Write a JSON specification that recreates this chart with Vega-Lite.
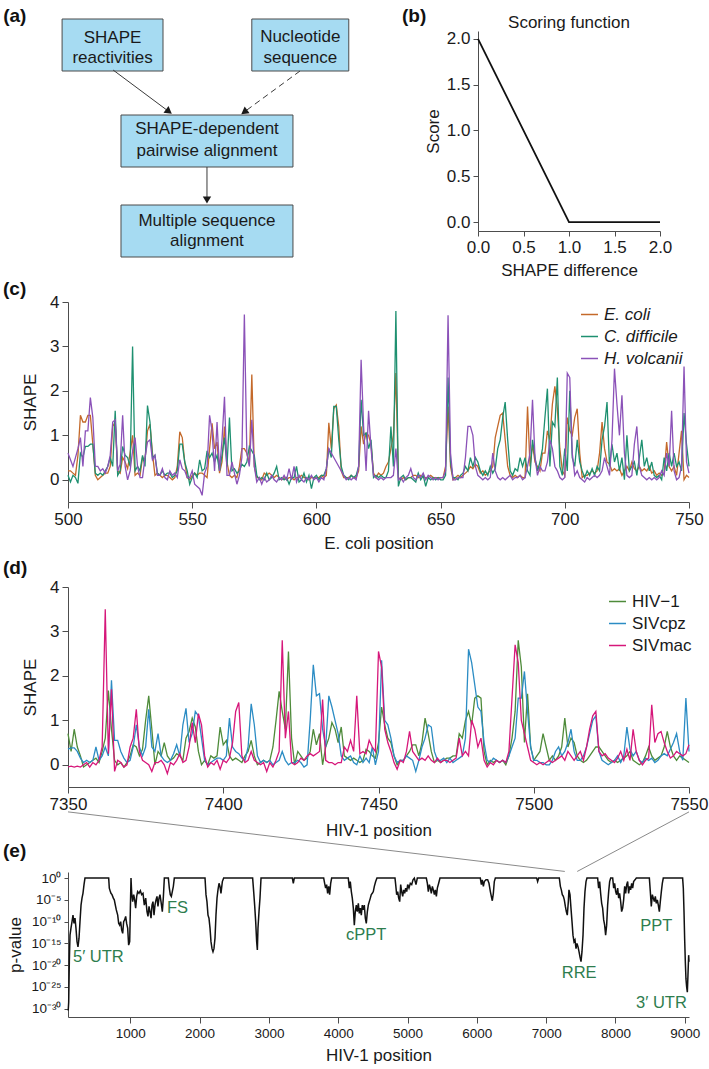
{
"$schema": "https://vega.github.io/schema/vega-lite/v6.json",
"padding": {"left": 3, "top": 6, "right": 2, "bottom": 2},
"background": "white",
"bounds": "flush",
"spacing": 85,
"resolve": {"scale": {"color": "independent"}, "legend": {"color": "independent"}},
"vconcat": [
{"width": 592, "height": 186,
"resolve": {"scale": {"x": "independent", "y": "independent"}},
"layer": [
{"layer": [
{"data": {"values": [
{"box":"r","x1":-0.21,"x2":3.37,"y1":-0.6,"y2":2.0},
{"box":"n","x1":6.52,"x2":9.96,"y1":-0.6,"y2":2.0},
{"box":"p","x1":1.88,"x2":7.98,"y1":4.2,"y2":6.8},
{"box":"m","x1":1.88,"x2":7.98,"y1":8.7,"y2":11.3}]},
"mark": {"type":"rect","fill":"#A6DBF2","stroke":"#4a4a4a","strokeWidth":1},
"encoding": {"x":{"field":"x1","type":"quantitative","scale":{"domain":[0,21],"nice":false,"zero":false},"axis":null},"x2":{"field":"x2"},
"y":{"field":"y1","type":"quantitative","scale":{"domain":[0,9.3],"nice":false,"zero":false,"reverse":true},"axis":null},"y2":{"field":"y2"}}},
{"data": {"values": [
{"t":"SHAPE","x":1.58,"y":0.37},
{"t":"reactivities","x":1.58,"y":1.33},
{"t":"Nucleotide","x":8.24,"y":0.3},
{"t":"sequence","x":8.24,"y":1.35},
{"t":"SHAPE-dependent","x":4.93,"y":4.92},
{"t":"pairwise alignment","x":4.93,"y":6.0},
{"t":"Multiple sequence","x":4.93,"y":9.5},
{"t":"alignment","x":4.93,"y":10.5}]},
"mark": {"type":"text","fontSize":17,"color":"#1a1a1a","align":"center","baseline":"middle"},
"encoding": {"x":{"field":"x","type":"quantitative","scale":{"domain":[0,21],"nice":false,"zero":false},"axis":null},
"y":{"field":"y","type":"quantitative","scale":{"domain":[0,9.3],"nice":false,"zero":false,"reverse":true},"axis":null},"text":{"field":"t"}}},
{"data": {"values": [{"t":"(a)","x":-2.3,"y":-0.75}]},
"mark": {"type":"text","fontSize":19,"fontWeight":"bold","color":"#111111","align":"left","baseline":"middle"},
"encoding": {"x":{"field":"x","type":"quantitative","scale":{"domain":[0,21],"nice":false,"zero":false},"axis":null},
"y":{"field":"y","type":"quantitative","scale":{"domain":[0,9.3],"nice":false,"zero":false,"reverse":true},"axis":null},"text":{"field":"t"}}},
{"data": {"values": [{"x":1.60,"y":1.95,"x2":3.58,"y2":4.03},{"x":4.93,"y":6.8,"x2":4.93,"y2":8.45}]},
"mark": {"type":"rule","color":"#3a3a3a","strokeWidth":1},
"encoding": {"x":{"field":"x","type":"quantitative","scale":{"domain":[0,21],"nice":false,"zero":false},"axis":null},
"y":{"field":"y","type":"quantitative","scale":{"domain":[0,9.3],"nice":false,"zero":false,"reverse":true},"axis":null},"x2":{"field":"x2"},"y2":{"field":"y2"}}},
{"data": {"values": [{"x":8.23,"y":2.0,"x2":6.25,"y2":4.05}]},
"mark": {"type":"rule","color":"#3a3a3a","strokeWidth":1,"strokeDash":[6,4]},
"encoding": {"x":{"field":"x","type":"quantitative","scale":{"domain":[0,21],"nice":false,"zero":false},"axis":null},
"y":{"field":"y","type":"quantitative","scale":{"domain":[0,9.3],"nice":false,"zero":false,"reverse":true},"axis":null},"x2":{"field":"x2"},"y2":{"field":"y2"}}},
{"data": {"values": [{"x":3.58,"y":4.03}]},
"mark": {"type":"point","shape":"triangle-down","filled":true,"color":"#1a1a1a","opacity":1,"size":70,"angle":306.7},
"encoding": {"x":{"field":"x","type":"quantitative","scale":{"domain":[0,21],"nice":false,"zero":false},"axis":null},
"y":{"field":"y","type":"quantitative","scale":{"domain":[0,9.3],"nice":false,"zero":false,"reverse":true},"axis":null}}},
{"data": {"values": [{"x":6.25,"y":4.05}]},
"mark": {"type":"point","shape":"triangle-down","filled":true,"color":"#1a1a1a","opacity":1,"size":70,"angle":53.9},
"encoding": {"x":{"field":"x","type":"quantitative","scale":{"domain":[0,21],"nice":false,"zero":false},"axis":null},
"y":{"field":"y","type":"quantitative","scale":{"domain":[0,9.3],"nice":false,"zero":false,"reverse":true},"axis":null}}},
{"data": {"values": [{"x":4.93,"y":8.45}]},
"mark": {"type":"point","shape":"triangle-down","filled":true,"color":"#1a1a1a","opacity":1,"size":70,"angle":0},
"encoding": {"x":{"field":"x","type":"quantitative","scale":{"domain":[0,21],"nice":false,"zero":false},"axis":null},
"y":{"field":"y","type":"quantitative","scale":{"domain":[0,9.3],"nice":false,"zero":false,"reverse":true},"axis":null}}}
]},
{"layer": [
{"data": {"values": [{"d":0,"s":2},{"d":1,"s":0},{"d":2,"s":0}]},
"mark": {"type":"line","color":"#111111","strokeWidth":1.8},
"encoding": {"x":{"field":"d","type":"quantitative","scale":{"domain":[0,2],"range":[410,592],"nice":false,"zero":false},"axis":{"orient":"bottom","offset":14,"values":[0,0.5,1,1.5,2],"format":".1f","title":"SHAPE difference","titlePadding":7,"tickSize":5,"labelFlush":false}},
"y":{"field":"s","type":"quantitative","scale":{"domain":[-0.098,2.087],"range":[200,0],"nice":false,"zero":false},"axis":{"orient":"left","offset":-410,"values":[0,0.5,1,1.5,2],"format":".1f","title":"Score","tickSize":5,"titlePadding":4}}}},
{"data": {"values": [{"lab":"(b)","d":-0.835,"s":2.251}]},
"mark": {"type":"text","fontSize":19,"fontWeight":"bold","align":"left","baseline":"middle","color":"#111111"},
"encoding": {"x":{"field":"d","type":"quantitative","title":"SHAPE difference","scale":{"domain":[0,2],"range":[410,592],"nice":false,"zero":false}},
"y":{"field":"s","type":"quantitative","title":"Score","scale":{"domain":[-0.098,2.087],"range":[200,0],"nice":false,"zero":false}},"text":{"field":"lab"}}},
{"data": {"values": [{"lab":"Scoring function","d":1,"s":2.175}]},
"mark": {"type":"text","fontSize":17,"align":"center","baseline":"middle","color":"#1a1a1a"},
"encoding": {"x":{"field":"d","type":"quantitative","title":"SHAPE difference","scale":{"domain":[0,2],"range":[410,592],"nice":false,"zero":false}},
"y":{"field":"s","type":"quantitative","title":"Score","scale":{"domain":[-0.098,2.087],"range":[200,0],"nice":false,"zero":false}},"text":{"field":"lab"}}}
]}
]},
{"width": 621, "height": 200, "title": {"text": "(c)", "dy": 12},
"data": {"values": "pos,ec,cd,hv\n500,0.2,0.1,0.6\n501,0.2,-0.05,0.45\n502,0.15,0.1,0.3\n503,0.1,0.05,0.5\n504,0.55,-0.08,0.7\n505,1.45,0.6,0.95\n506,1.3,0.5,0.3\n507,1.3,0.75,1.1\n508,1.45,0.75,1.1\n509,1.45,0.8,1.85\n510,0.8,0.8,1.4\n511,0.1,0.15,0.3\n512,0,0.1,0.3\n513,0.05,0.15,0.2\n514,0.1,0.1,0.25\n515,0.15,0.2,0.15\n516,0.15,0.3,0.3\n517,0.3,0.5,0.55\n518,1.2,0.3,1.3\n519,1.3,1.55,1.35\n520,0.2,0.1,0.2\n521,0.15,0.2,0.35\n522,0.5,0.75,1.45\n523,0.4,0.55,0.3\n524,0.25,0.5,0\n525,0.6,0.3,0.2\n526,1,3,0.65\n527,0.1,0.2,0.95\n528,0.15,0.3,0.3\n529,0.1,0.2,0.05\n530,0.5,0.55,0.05\n531,0.45,0.3,0.5\n532,1.1,1.67,0.85\n533,1.25,1.3,0.9\n534,0.6,0.5,0.45\n535,0.1,0.55,0.55\n536,0.15,0.15,0.1\n537,0.1,0.1,0.1\n538,0.05,0.2,0.25\n539,0.1,0.1,0.05\n540,0.1,0.15,0\n541,0.05,0.15,0.2\n542,0,0.05,0.1\n543,0.05,0.1,0.15\n544,0.3,0.2,0.05\n545,1.08,0.8,0.45\n546,0.95,0.8,0.25\n547,0.4,0.4,0.2\n548,0.05,0.2,0.05\n549,0,-0.1,0.05\n550,0.1,0.05,0.2\n551,0.15,0.15,-0.1\n552,0.1,0.05,-0.15\n553,0.15,0.45,-0.2\n554,0.15,0.2,-0.35\n555,0.1,0.25,0.15\n556,0.05,0.65,0.3\n557,0.7,0.5,1.45\n558,1.27,0.6,1.1\n559,0.7,0.4,0.2\n560,0.85,0.55,1.3\n561,0.15,0.2,0.2\n562,0.4,0.55,0.9\n563,1.2,0.95,1.87\n564,0.4,0.3,0.1\n565,0.1,1.4,0.1\n566,0.05,0.2,0.4\n567,0.1,0.25,0.15\n568,0.05,0.15,-0.1\n569,0.3,0.2,0.1\n570,0.7,0.35,0.5\n571,0.7,0.3,3.72\n572,0.6,0.4,0.6\n573,0.35,0.75,0.3\n574,2.37,0.65,1.35\n575,0.3,0.55,0.3\n576,0.05,0.1,-0.05\n577,0.05,0,0.05\n578,0,0.05,-0.1\n579,0.15,0,0.05\n580,0.1,0.15,-0.05\n581,0.15,0,0\n582,0.1,0.05,0.1\n583,0.05,0.15,0\n584,0.1,0.3,-0.05\n585,0.05,0,0.05\n586,0,0.05,0\n587,0.05,0,0.1\n588,0,0.05,0\n589,0.05,-0.1,0.25\n590,0.05,0.05,0\n591,0,0.05,0.3\n592,0.05,0.3,-0.05\n593,0.05,-0.05,0.1\n594,0.1,0,0\n595,0.05,0.15,-0.05\n596,0.05,-0.05,0.05\n597,0,0.1,0\n598,0.05,-0.2,0.1\n599,0.05,0.05,0\n600,0.05,0.1,0.05\n601,0.05,0,-0.05\n602,0.1,0.1,0.05\n603,0.05,0.1,0\n604,0.1,0.25,0.25\n605,1.28,0.7,0.7\n606,0.7,0.5,0.6\n607,1.6,1.65,0.5\n608,1.68,1.65,0.4\n609,1.2,0.9,0.3\n610,0.2,0.3,0.2\n611,0.05,0.1,0.1\n612,0.05,0.05,0\n613,0.05,0,0.05\n614,0.1,0.1,0\n615,0.05,0.05,0.05\n616,0.05,0.1,0\n617,0.2,0.3,0.3\n618,1.2,1.8,2.7\n619,0.8,1,1.2\n620,1.05,1.05,0.2\n621,1,0.7,1.55\n622,0.8,0.9,0.7\n623,0.15,0.05,0.1\n624,0.05,0.1,0.05\n625,0.15,0.05,0\n626,0.1,0.1,0.05\n627,0.15,0.05,0\n628,0.3,0.05,0.05\n629,0.4,0.2,0.05\n630,0.7,1.2,0.05\n631,1,0.3,0.1\n632,2.4,3.8,0.7\n633,0.05,-0.15,0\n634,0,0.05,0.05\n635,0.05,0.1,-0.05\n636,0,0,0.05\n637,0.05,0.05,0.1\n638,0.05,0.05,0.25\n639,0.1,0,0.05\n640,0.1,-0.05,0\n641,0.05,0.15,0.1\n642,0.1,0,0.05\n643,0.05,0.1,0.15\n644,0.05,-0.15,0\n645,0.05,0.05,0.1\n646,0.1,0,0.05\n647,0.05,0.05,0\n648,0.05,0,0.05\n649,0.05,0.05,0\n650,0.05,0,0.05\n651,0.05,0,0.05\n652,0.3,0.1,0.2\n653,1.65,2.3,3.7\n654,0.3,0.4,0.6\n655,0,0.05,0\n656,0.05,0.05,0\n657,0.1,0,0.05\n658,0.05,0.1,0.05\n659,0.1,0.15,0.05\n660,0.15,0.3,0.5\n661,0.2,0.2,1.2\n662,0.3,0.5,1.2\n663,0.25,0.3,1\n664,0.35,0.5,0.3\n665,0.3,0.4,0.1\n666,0.15,0.2,0.05\n667,0.2,0.1,0\n668,0.1,0.2,0.05\n669,0.15,0.1,0\n670,0.2,0.3,0.05\n671,0.3,0.15,0.6\n672,0.95,0.25,0.2\n673,1.2,0.7,0.05\n674,1.45,0.9,0\n675,1.5,1.4,0.05\n676,0.9,1.75,0\n677,0.3,0.9,0.05\n678,0.1,0.2,0.1\n679,0.05,0.1,0\n680,0.1,0.25,0.05\n681,0.05,0.2,0.05\n682,0.1,0.5,0.1\n683,0.05,0.3,0\n684,0.05,0.5,0.05\n685,1.65,0.2,0.3\n686,0.3,0.1,0.6\n687,0.8,0.9,1.8\n688,0.4,0.5,0.5\n689,0.3,0.2,0.1\n690,0.2,0.4,0.3\n691,0.6,0.7,0.2\n692,0.6,1.4,0.2\n693,1.1,2.05,0.4\n694,0.9,0.3,0.9\n695,1.7,1.3,0.7\n696,2.1,1.2,0.3\n697,1.6,2.3,0.2\n698,0.7,0.3,0.05\n699,0.2,0.1,0\n700,0.1,0.7,0.05\n701,1.4,0.2,2.4\n702,1.1,2,2.3\n703,1,0.5,0.6\n704,1.4,0.3,0.1\n705,1.6,0.9,0.2\n706,0.6,0.4,0.05\n707,0.05,0.2,0\n708,0.1,0.05,-0.05\n709,0.1,0.2,0.05\n710,0.15,0.1,0\n711,0.2,0.25,0.05\n712,0.15,0.1,0.1\n713,0.2,0.3,0.05\n714,0.6,0.2,0.1\n715,1.3,0.9,0.2\n716,0.7,1.2,0.5\n717,0.4,1.75,0.3\n718,0.35,0.3,0.1\n719,0.2,0.8,0.9\n720,0.25,0.4,2.5\n721,0.2,0.6,1.7\n722,0.25,0.2,1\n723,0.1,0.5,1.9\n724,0.2,0,0.6\n725,0.3,1,0.1\n726,0.2,0.2,0.05\n727,0.4,0.3,0.1\n728,0.25,0.4,0.8\n729,0.2,0.1,1.2\n730,0.3,0.5,0.3\n731,0.2,0.9,0.1\n732,0.25,0.3,0.05\n733,0.2,0.5,0\n734,0.3,0.2,0.05\n735,0.15,0.4,0\n736,0.2,0.1,0.05\n737,0.1,0.05,0\n738,0.15,0.1,0.05\n739,0.1,0,0.2\n740,0.15,0.5,0.1\n741,0.85,0.2,0.6\n742,0.3,0.6,0.3\n743,0.2,0.3,1.55\n744,0.3,0.6,0.2\n745,0.1,0.3,0\n746,0.6,0.4,0.05\n747,1.1,0.2,0.3\n748,0,1.5,2.55\n749,0.1,0.8,0.4\n750,0.05,0.3,0.15", "format": {"type":"csv","parse":{"pos":"number","ec":"number","cd":"number","hv":"number"}}},
"transform": [{"fold": ["ec","cd","hv"], "as": ["series","shape"]}],
"mark": {"type":"line","strokeWidth":1.3},
"encoding": {
"x": {"field":"pos","type":"quantitative","scale":{"domain":[500,750],"nice":false,"zero":false},"axis":{"values":[500,550,600,650,700,750],"format":"d","title":"E. coli position","titlePadding":8}},
"y": {"field":"shape","type":"quantitative","scale":{"domain":[-0.5,4],"nice":false,"zero":false},"axis":{"values":[0,1,2,3,4],"title":"SHAPE","titlePadding":10}},
"color": {"field":"series","type":"nominal","scale":{"domain":["ec","cd","hv"],"range":["#C4692A","#1E9070","#8B52B8"]},"legend":{"orient":"none","legendX":512,"legendY":3,"title":null,"symbolType":"stroke","symbolSize":289,"symbolStrokeWidth":1.5,"labelFontSize":17,"labelFontStyle":"italic","labelOffset":5,"rowPadding":4,"labelColor":"#1a1a1a","labelExpr":"datum.label == 'ec' ? 'E. coli' : datum.label == 'cd' ? 'C. difficile' : 'H. volcanii'"}}
}},
{"width": 621, "height": 200, "title": {"text": "(d)", "dy": 6},
"layer": [
{"data": {"values": "pos,g,b,m\n7350,0.7,0.35,-0.05\n7351,0.3,0.38,-0.03\n7352,0.8,0.38,-0.05\n7353,0.4,0.3,-0.03\n7354,0.2,0.15,-0.05\n7355,-0.05,0.05,0\n7356,0,0.1,0.05\n7357,0.05,0.05,-0.05\n7358,0.1,0.1,0.05\n7359,0.15,0.4,0\n7360,0.05,0.1,0.1\n7361,0.3,0.2,0.4\n7362,0.6,0.4,3.5\n7363,1.67,0.2,0.25\n7364,0.8,1.9,1.7\n7365,0.1,0.55,-0.15\n7366,0,0.55,0.1\n7367,0.05,0.3,0.05\n7368,-0.05,0.15,-0.05\n7369,0.05,0.05,0\n7370,0.2,0.1,0.4\n7371,0.45,0.4,0.6\n7372,0.4,0.9,1.25\n7373,0.2,0.4,0.3\n7374,0.35,0.2,0.1\n7375,1,0.4,0.05\n7376,1.55,1.25,0\n7377,0.8,0.4,-0.15\n7378,0,0.3,0.05\n7379,0.3,0.7,0.05\n7380,0.2,0.2,0.1\n7381,0.5,0.1,0\n7382,0.2,0.05,-0.2\n7383,0.1,0.1,0.05\n7384,0.15,0.25,0\n7385,0.25,0.45,0.1\n7386,0.2,0.2,0.25\n7387,0.1,0.9,0.05\n7388,0.6,1.27,0.1\n7389,0.75,0.5,0.4\n7390,1.05,0.7,0.95\n7391,0.85,1.2,0.5\n7392,0.3,1.1,1.15\n7393,0,0.6,0.9\n7394,0.1,0.1,0.2\n7395,0,0,-0.05\n7396,0.2,0.05,0.05\n7397,0.15,0.1,0\n7398,0.2,0.15,0.1\n7399,0.85,0.15,-0.1\n7400,0.45,0.1,0.1\n7401,0.55,0.2,0.05\n7402,0.2,1.05,0.15\n7403,0.1,0.4,0.5\n7404,0.15,0.3,1.2\n7405,0.1,0.25,1.4\n7406,0.05,0.15,0.2\n7407,0.2,0.1,0.05\n7408,0.3,0.4,0.1\n7409,0.55,1.37,0.3\n7410,0.2,0.9,0.1\n7411,0,0.2,0.05\n7412,0.05,0.05,0\n7413,0.1,0.1,0.05\n7414,0.05,0.05,-0.15\n7415,0.1,0.1,0.05\n7416,0.4,0,-0.05\n7417,1,0.05,0.1\n7418,1.65,0.1,0.3\n7419,1.2,0.3,2.8\n7420,0.8,0.1,0.6\n7421,2.55,0,1.2\n7422,0.6,0.05,0.05\n7423,0,0.05,0\n7424,0.3,0.1,0.05\n7425,0.2,0.05,0.15\n7426,0.1,-0.05,0.1\n7427,0.15,0,0.2\n7428,0.3,1,0.25\n7429,0.8,2.25,0.2\n7430,0.45,1.55,0.25\n7431,0.7,1.6,0.3\n7432,0,0.8,1.47\n7433,0.4,0.4,0.1\n7434,0.6,1.55,0.05\n7435,0.95,1.3,0.05\n7436,0.8,1,0\n7437,0.5,0.7,0.05\n7438,0.85,0.2,0.05\n7439,0.2,0.1,0.4\n7440,0.15,0.15,0.3\n7441,0.1,0.2,0.55\n7442,0.15,0.05,0.3\n7443,0.1,0,1.55\n7444,0.05,0.2,0.25\n7445,0.1,0.05,0.3\n7446,0.35,0.15,0.25\n7447,0.3,0.05,0.55\n7448,0.2,0.4,0.4\n7449,0.15,0,0.3\n7450,0.5,0.3,2.55\n7451,1.3,2.35,2.2\n7452,0.9,1,0.8\n7453,0.6,0.9,0.5\n7454,0.5,0.6,0.3\n7455,0.2,0.2,0.05\n7456,0,0.05,-0.1\n7457,0.1,0.1,0.1\n7458,0.1,0.1,0.05\n7459,0.2,0.2,0.3\n7460,0.3,0.15,0.75\n7461,0.45,0.1,0.3\n7462,0.45,-0.15,0.2\n7463,0.2,0.1,0.1\n7464,0.5,0.4,0.15\n7465,1.05,0.6,0.1\n7466,0.7,0.9,0.2\n7467,0.3,0.85,0.1\n7468,0.05,0.3,0.05\n7469,0.1,0.1,0.15\n7470,0.05,0.1,0.05\n7471,0.1,0.15,0.1\n7472,0.15,0.05,0.1\n7473,0.15,0.15,0.05\n7474,0.2,0.05,0.1\n7475,0.2,0.1,0.15\n7476,0.7,0.15,0.6\n7477,0.6,0.2,0.2\n7478,1,0.6,0.3\n7479,1.2,2.6,0.2\n7480,0.9,2.3,1\n7481,1.5,1.8,0.8\n7482,1.55,1.3,0.4\n7483,1.5,1.2,0.6\n7484,0.3,0.5,0.1\n7485,0,0.1,-0.05\n7486,0.1,0.05,0.05\n7487,0.05,0.15,0\n7488,0.1,0.1,0.1\n7489,0.05,0.05,0.05\n7490,0.1,0.1,0.1\n7491,0,0.05,0.05\n7492,0.2,0.2,0.3\n7493,0.6,0.4,1.5\n7494,1.2,0.6,2.7\n7495,2.8,1.5,2.3\n7496,2.2,1.5,1\n7497,0.5,2.1,0.7\n7498,1.6,1.2,0.4\n7499,0.4,0.4,0.1\n7500,0.1,0.1,0.05\n7501,0.2,0.1,0\n7502,0.3,0.05,0.05\n7503,0.7,0.05,0\n7504,0.4,0,0.05\n7505,0.1,0,0.1\n7506,0.2,0.1,0.05\n7507,0.1,0.3,0.1\n7508,0.2,0.4,0.15\n7509,0.4,0.2,0.2\n7510,1.05,0.3,0.1\n7511,0.4,0.5,0.3\n7512,0.6,0.8,0.2\n7513,0.5,0.3,0.1\n7514,0.2,0.1,0.2\n7515,0.1,0.1,0.3\n7516,0.05,0.2,0.1\n7517,0.1,0.4,0.4\n7518,0.2,0.7,0.8\n7519,0.3,1,1.1\n7520,0.4,1.1,1.2\n7521,0.4,0.3,0.3\n7522,0.3,0.1,0.2\n7523,0.2,0.05,0.25\n7524,0.1,0,0.15\n7525,0.05,0.05,0.1\n7526,0.1,0.1,0.05\n7527,0.05,0.2,0.15\n7528,0.1,0.05,0.3\n7529,0.15,0.2,0.1\n7530,0.2,0.85,0.35\n7531,0.3,0.35,0.1\n7532,0.1,0.2,0.8\n7533,0.05,0.3,0.3\n7534,0,0.1,0.1\n7535,0.05,0.05,0\n7536,0.2,0.15,0.1\n7537,0.4,0.1,0.15\n7538,0.2,0.15,1.35\n7539,0.1,0.05,0.5\n7540,0.15,0.1,0.7\n7541,0.2,0.2,0.75\n7542,0.4,0.25,0.5\n7543,0.75,0.2,0.3\n7544,0.4,0.35,0.15\n7545,0.2,0.5,0.2\n7546,0.1,0.7,0.3\n7547,0.2,0.3,0.25\n7548,0.15,0.1,0.2\n7549,0.1,1.5,0.25\n7550,0.05,0.3,0.45", "format": {"type":"csv","parse":{"pos":"number","g":"number","b":"number","m":"number"}}},
"transform": [{"fold": ["g","b","m"], "as": ["series","shape"]}],
"mark": {"type":"line","strokeWidth":1.3},
"encoding": {
"x": {"field":"pos","type":"quantitative","scale":{"domain":[7350,7550],"nice":false,"zero":false},"axis":{"values":[7350,7400,7450,7500,7550],"format":"d","title":"HIV-1 position","titlePadding":10}},
"y": {"field":"shape","type":"quantitative","scale":{"domain":[-0.5,4],"nice":false,"zero":false},"axis":{"values":[0,1,2,3,4],"title":"SHAPE","titlePadding":10}},
"color": {"field":"series","type":"nominal","scale":{"domain":["g","b","m"],"range":["#4E8B3A","#2B8CC4","#D6177A"]},"legend":{"orient":"none","legendX":540,"legendY":5,"title":null,"symbolType":"stroke","symbolSize":289,"symbolStrokeWidth":1.5,"labelFontSize":17,"labelOffset":5,"rowPadding":4,"labelColor":"#1a1a1a","labelExpr":"datum.label == 'g' ? 'HIV−1' : datum.label == 'b' ? 'SIVcpz' : 'SIVmac'"}}
}},
{"data": {"values": [{"pos":7350,"shape":-1.06,"pos2":7510,"shape2":-2.4},{"pos":7550,"shape":-1.06,"pos2":7514,"shape2":-2.4}]},
"mark": {"type":"rule","color":"#8a8a8a","strokeWidth":1},
"encoding": {
"x": {"field":"pos","type":"quantitative","title":"HIV-1 position","scale":{"domain":[7350,7550],"nice":false,"zero":false}},
"y": {"field":"shape","type":"quantitative","title":"SHAPE","scale":{"domain":[-0.5,4],"nice":false,"zero":false}},
"x2": {"field":"pos2"}, "y2": {"field":"shape2"}}}
]},
{"width": 621, "height": 145, "title": {"text": "(e)", "dy": -4},
"layer": [
{"data": {"values": "pos,p\n104,0.398e-30\n111,0.316e-28\n120,0.631e-19\n130,0.794e-13\n144,0.316e-11\n159,1e-10\n173,0.316e-8\n188,0.398e-10\n202,0.631e-9\n216,0.316e-11\n231,0.251e-14\n245,0.158e-15\n260,0.158e-13\n274,1e-10\n289,0.631e-6\n303,0.251e-4\n317,0.316e-3\n332,0.316e-1\n346,1\n688,1\n697,0.501e-2\n712,0.794e-3\n721,0.316e-3\n736,0.158e-3\n755,0.251e-4\n769,1e-5\n784,0.631e-6\n798,0.501e-7\n818,0.316e-8\n832,0.398e-10\n846,0.158e-10\n861,1e-10\n875,0.126e-11\n890,0.2e-12\n904,1e-10\n918,0.251e-9\n933,0.158e-8\n947,0.398e-10\n962,0.316e-11\n976,0.398e-15\n991,0.251e-14\n1000,0.2e-7\n1010,1\n1020,0.316e-3\n1034,0.398e-5\n1049,0.158e-3\n1063,1e-5\n1077,0.126e-6\n1092,0.631e-4\n1106,0.794e-3\n1125,0.316e-3\n1145,0.126e-2\n1164,0.158e-3\n1183,0.316e-3\n1202,0.631e-6\n1222,0.251e-4\n1241,0.2e-7\n1255,0.158e-8\n1270,0.316e-6\n1284,0.2e-7\n1299,0.631e-9\n1313,0.631e-6\n1327,0.398e-5\n1342,0.316e-8\n1356,0.631e-6\n1371,1e-5\n1385,0.631e-4\n1399,0.316e-6\n1414,0.251e-4\n1428,0.158e-3\n1443,0.398e-5\n1462,0.2e-7\n1476,0.251e-4\n1491,1\n1549,1\n1563,0.501e-2\n1577,0.158e-3\n1592,0.631e-4\n1606,0.794e-3\n1621,0.126e-1\n1635,1\n2078,1\n2092,0.158e-3\n2106,0.398e-5\n2121,0.316e-8\n2135,0.631e-9\n2150,0.316e-11\n2164,0.251e-14\n2179,0.631e-16\n2193,0.126e-16\n2207,0.631e-16\n2222,0.158e-13\n2236,0.316e-8\n2251,0.251e-4\n2265,0.2e-2\n2280,0.631e-1\n2294,0.126e-1\n2308,0.316e-3\n2328,0.158\n2347,1\n2765,1\n2780,0.794e-3\n2794,0.631e-6\n2809,1e-10\n2823,0.251e-14\n2833,0.316e-16\n2842,0.316e-11\n2857,0.2e-7\n2871,0.251e-4\n2886,1\n3338,1\n3352,0.631e-1\n3366,1\n3790,1\n3804,0.631e-1\n3818,0.501e-2\n3833,0.316e-1\n3847,0.316e-3\n3862,0.126e-1\n3876,0.158e-3\n3891,0.631e-1\n3905,1\n4145,1\n4160,0.501e-2\n4174,0.158\n4189,0.794e-3\n4203,0.251e-4\n4218,0.126e-6\n4232,0.158e-10\n4246,0.2e-7\n4261,0.631e-6\n4275,0.2e-7\n4290,0.158e-5\n4304,0.794e-8\n4319,0.126e-6\n4333,0.316e-8\n4347,0.631e-6\n4362,0.501e-7\n4376,0.631e-6\n4391,0.631e-9\n4405,0.398e-10\n4420,0.2e-7\n4434,0.631e-6\n4448,0.398e-5\n4463,0.251e-4\n4477,0.158e-3\n4492,0.316e-3\n4506,0.794e-3\n4521,0.126e-1\n4540,0.158\n4559,1\n4819,1\n4829,0.316e-1\n4843,0.158e-3\n4858,0.794e-3\n4872,0.251e-4\n4887,0.398e-5\n4901,0.316e-1\n4915,0.794e-3\n4930,0.631e-4\n4944,0.2e-2\n4959,0.316e-3\n4973,0.501e-2\n4988,0.794e-3\n5002,0.316e-1\n5021,0.501e-2\n5040,0.631e-1\n5060,0.316e-1\n5079,0.398\n5098,1\n5122,0.316e-1\n5141,1\n5271,1\n5286,0.631e-1\n5300,0.794e-3\n5315,0.316e-1\n5329,0.501e-2\n5343,0.316e-3\n5358,0.126e-1\n5372,0.2e-2\n5387,0.158e-3\n5401,0.2e-2\n5416,0.631e-4\n5430,0.501e-2\n5449,0.631e-1\n5468,1\n6050,1\n6065,0.316e-1\n6079,0.398\n6094,0.126e-1\n6108,0.158\n6132,0.398\n6156,0.398\n6175,0.631e-1\n6195,0.794e-3\n6209,0.631e-4\n6223,0.631e-5\n6238,0.316e-3\n6252,0.158\n6267,1\n6863,1\n6877,0.158\n6892,1\n7190,1\n7205,0.126e-1\n7219,0.2e-2\n7233,0.158e-3\n7248,0.631e-4\n7262,1e-5\n7277,0.316e-6\n7291,0.2e-7\n7305,0.316e-8\n7320,0.398e-5\n7329,0.2e-2\n7344,0.158e-3\n7358,0.126e-6\n7373,1e-10\n7387,0.794e-13\n7402,0.251e-14\n7416,0.631e-14\n7431,0.631e-16\n7445,1e-15\n7460,0.158e-15\n7474,0.126e-16\n7488,0.794e-18\n7503,0.631e-19\n7517,0.126e-16\n7532,0.794e-13\n7546,0.126e-6\n7560,0.794e-3\n7575,0.158\n7589,1\n7743,1\n7757,0.501e-2\n7772,0.158\n7786,0.316e-3\n7801,0.158e-5\n7815,0.126e-6\n7830,0.251e-9\n7844,0.158e-10\n7858,0.794e-13\n7873,0.158e-10\n7887,0.631e-6\n7902,0.794e-3\n7916,0.158\n7931,1\n7960,1\n7974,0.501e-2\n7988,0.631e-1\n8003,0.794e-3\n8017,0.158e-3\n8032,0.501e-2\n8046,0.251e-4\n8060,0.316e-3\n8075,0.398e-5\n8089,0.2e-7\n8104,0.126e-6\n8118,1e-5\n8133,0.126e-1\n8147,0.316e-3\n8162,0.316e-1\n8176,0.158\n8190,0.316e-3\n8205,0.126e-1\n8219,0.2e-2\n8234,0.631e-1\n8248,0.501e-2\n8262,0.158\n8282,0.398\n8301,1\n8489,1\n8503,0.794e-3\n8517,0.316e-6\n8532,0.158e-3\n8546,0.251e-4\n8561,0.398e-5\n8575,0.631e-4\n8589,0.158e-5\n8604,1e-5\n8618,0.631e-6\n8633,0.2e-7\n8647,0.398e-5\n8662,0.794e-3\n8676,0.631e-1\n8690,1\n8969,1\n8979,0.501e-2\n8989,0.2e-7\n8998,0.158e-13\n9008,0.631e-19\n9017,0.794e-23\n9027,1e-25\n9037,0.631e-26\n9046,0.501e-22\n9056,0.2e-17\n9061,0.631e-19", "format": {"type":"csv","parse":{"pos":"number","p":"number"}}},
"mark": {"type":"line","color":"#111111","strokeWidth":1.5},
"encoding": {
"x": {"field":"pos","type":"quantitative","scale":{"domain":[101,9061],"nice":false,"zero":false},"axis":{"values":[1000,2000,3000,4000,5000,6000,7000,8000,9000],"format":"d","title":"HIV-1 position","labelFontSize":13.5,"titlePadding":8}},
"y": {"field":"p","type":"quantitative","scale":{"type":"log","domain":[1.26e-32,25.1],"nice":false},"axis":{"values":[1,1e-5,1e-10,1e-15,1e-20,1e-25,1e-30],"labelFontSize":13.5,"tickSize":4,"title":"p-value","titlePadding":6,"labelExpr":"datum.value > 0.1 ? '10⁰' : datum.value > 1e-6 ? '10⁻⁵' : datum.value > 1e-11 ? '10⁻¹⁰' : datum.value > 1e-16 ? '10⁻¹⁵' : datum.value > 1e-21 ? '10⁻²⁰' : datum.value > 1e-26 ? '10⁻²⁵' : '10⁻³⁰'"}}
}},
{"data": {"values": [
{"lab":"5′ UTR","pos":173,"p":0.794e-18},
{"lab":"FS","pos":1530,"p":0.126e-6},
{"lab":"cPPT","pos":4112,"p":0.794e-13},
{"lab":"RRE","pos":7225,"p":0.2e-21},
{"lab":"PPT","pos":8359,"p":0.126e-10},
{"lab":"3′ UTR","pos":8297,"p":0.2e-28}]},
"mark": {"type":"text","fontSize":16.5,"color":"#2E7D4E","align":"left","baseline":"middle"},
"encoding": {
"x": {"field":"pos","type":"quantitative","title":"HIV-1 position","scale":{"domain":[101,9061],"nice":false,"zero":false}},
"y": {"field":"p","type":"quantitative","title":"p-value","scale":{"type":"log","domain":[1.26e-32,25.1],"nice":false}},
"text": {"field":"lab"}}}
]}
],
"config": {
"font": "Liberation Sans",
"view": {"stroke": null},
"axis": {"grid": false, "domainColor": "#4d4d4d", "tickColor": "#4d4d4d", "labelColor": "#1a1a1a", "titleColor": "#1a1a1a", "labelFontSize": 17, "titleFontSize": 17, "titleFontWeight": "normal", "tickSize": 6, "labelPadding": 3, "labelFont": "Liberation Sans", "titleFont": "Liberation Sans", "domainWidth": 1, "tickWidth": 1},
"axisX": {"labelFlush": false},
"title": {"anchor": "start", "frame": "group", "fontSize": 19, "fontWeight": "bold", "font": "Liberation Sans", "color": "#111111", "dx": -65, "offset": 6},
"legend": {"labelFont": "Liberation Sans"}
}
}
